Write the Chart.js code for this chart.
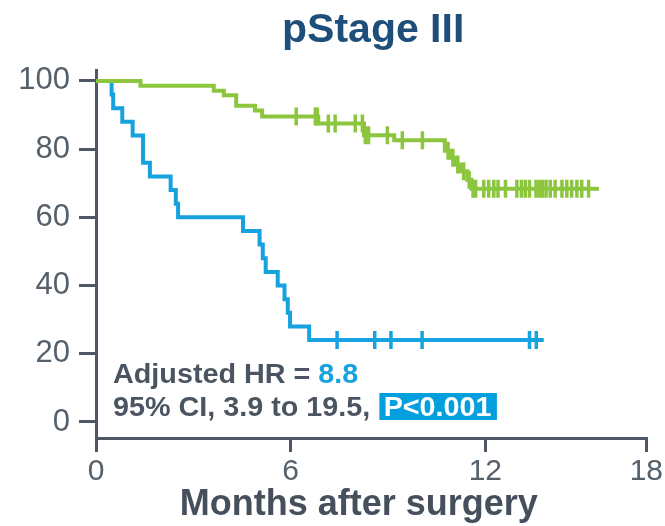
<!DOCTYPE html>
<html>
<head>
<meta charset="utf-8">
<script src="https://cdn.jsdelivr.net/npm/chart.js@4.4.1/dist/chart.umd.min.js"></script>
<style>
  html, body { margin: 0; padding: 0; background: #ffffff; }
  #wrap { width: 665px; height: 526px; }
</style>
</head>
<body>
<div id="wrap"><canvas id="km" width="665" height="526"></canvas></div>
<script>
// ---- labels ----
const chartTitle = 'pStage III';
const xAxisTitle = 'Months after surgery';
const xTickLabels = ['0', '6', '12', '18'];
const yTickValues = [0, 20, 40, 60, 80, 100];
const hrLabel = 'Adjusted HR = ';
const hrValue = '8.8';
const ciLabel = '95% CI, 3.9 to 19.5, ';
const pLabel = 'P<0.001';

// ---- Kaplan-Meier steps: time (months) and survival (%) from that time on ----
const greenTimes = [0, 1.37, 3.63, 3.94, 4.32, 4.90, 5.12, 6.85, 8.26, 9.19, 10.75, 10.93, 11.08, 11.23, 11.44, 11.57, 15.50];
const greenSurv  = [100, 98.6, 97.1, 95.8, 92.7, 91.3, 89.6, 87.5, 84.1, 82.6, 79.5, 77.5, 75.5, 73.5, 71.0, 68.4, 68.4];
const greenCensored = [6.17, 6.76, 6.82, 7.16, 7.37, 7.99, 8.21, 8.30, 8.40, 8.98, 9.44, 10.06,
  10.85, 11.00, 11.15, 11.33, 11.50,
  11.62, 11.70, 11.95, 12.10, 12.26, 12.39, 12.62, 12.97, 13.11, 13.23, 13.36, 13.56, 13.66,
  13.76, 13.87, 14.00, 14.15, 14.36, 14.51, 14.66, 14.82, 14.97, 15.18];

const blueTimes = [0, 0.48, 0.53, 0.81, 1.13, 1.45, 1.66, 2.30, 2.46, 2.53, 4.53, 5.04, 5.14, 5.23, 5.60, 5.81, 5.91, 5.98, 6.57, 13.80];
const blueSurv  = [100, 96, 92, 88, 84, 76, 72, 68, 64, 60, 56, 52, 48, 44, 40, 36, 32, 28, 24, 24];
const blueCensored = [7.43, 8.59, 9.09, 10.05, 13.36, 13.57];

// ---- axis extents ----
const xAxisEnd = 16.96;   // last drawn tick, labelled "18"
const yMin = -4.7, yMax = 103.2;

// ---- colours / fonts ----
const GREEN = '#8cc63f';
const BLUE = '#16a2de';
const AXIS = '#4e5865';
const TEXT = '#4b5561';
const NAVY = '#1e4f7b';
const FONT = '"Liberation Sans", Arial, Helvetica, sans-serif';

const curve = (ts, ss) => ts.map((t, i) => ({ x: t, y: ss[i] }));
const survAt = (ts, ss, t) => { let v = ss[0]; for (let i = 0; i < ts.length; i++) { if (ts[i] <= t) v = ss[i]; } return v; };
const marks = (cs, ts, ss) => cs.map(t => ({ x: t, y: survAt(ts, ss, t) }));

const lineStyle = color => ({
  borderColor: color, backgroundColor: color, borderWidth: 4,
  pointRadius: 0, stepped: true, fill: false, tension: 0
});
const markStyle = color => ({
  showLine: false, pointStyle: 'line', rotation: 90, pointRadius: 9,
  pointBorderWidth: 3.5, pointBorderColor: color, borderColor: color, backgroundColor: color
});

const annotations = {
  id: 'annotations',
  afterDraw(chart) {
    const { ctx, chartArea, scales } = chart;
    ctx.save();
    // title
    ctx.fillStyle = NAVY;
    ctx.font = 'bold 41px ' + FONT;
    ctx.textAlign = 'center';
    ctx.textBaseline = 'alphabetic';
    ctx.fillText(chartTitle, (chartArea.left + chartArea.right) / 2 + 2, 42);
    // x axis title
    ctx.fillStyle = '#46505c';
    ctx.font = 'bold 36px ' + FONT;
    ctx.fillText(xAxisTitle, scales.x.getPixelForValue(8.1), 515);
    // hazard ratio text (slightly widened face)
    const sx = 1.065;
    ctx.textAlign = 'left';
    ctx.font = 'bold 27px ' + FONT;
    const x0 = chartArea.left + 17;
    ctx.translate(x0, 0);
    ctx.scale(sx, 1);
    ctx.fillStyle = TEXT;
    ctx.fillText(hrLabel, 0, 383);
    const w1 = ctx.measureText(hrLabel).width;
    ctx.fillStyle = BLUE;
    ctx.fillText(hrValue, w1, 383);
    ctx.fillStyle = TEXT;
    ctx.fillText(ciLabel, 0, 416);
    const w2 = ctx.measureText(ciLabel).width;
    const pw = ctx.measureText(pLabel).width;
    const bx = w2 + 1;
    ctx.fillStyle = '#049fdd';
    ctx.fillRect(bx, 393, pw + 9, 27);
    ctx.fillStyle = '#ffffff';
    ctx.fillText(pLabel, bx + 4, 416);
    ctx.restore();
  }
};

new Chart(document.getElementById('km'), {
  type: 'line',
  data: {
    datasets: [
      Object.assign({ data: marks(greenCensored, greenTimes, greenSurv) }, markStyle(GREEN)),
      Object.assign({ data: curve(greenTimes, greenSurv) }, lineStyle(GREEN)),
      Object.assign({ data: marks(blueCensored, blueTimes, blueSurv) }, markStyle(BLUE)),
      Object.assign({ data: curve(blueTimes, blueSurv) }, lineStyle(BLUE))
    ]
  },
  options: {
    responsive: false,
    animation: false,
    events: [],
    layout: { padding: { top: 70, right: 17, left: 0, bottom: 0 } },
    plugins: { legend: { display: false }, tooltip: { enabled: false }, title: { display: false } },
    scales: {
      x: {
        type: 'linear', min: 0, max: xAxisEnd,
        afterBuildTicks: s => { s.ticks = [0, 6, 12, xAxisEnd].map(v => ({ value: v })); },
        afterFit: s => { s.height = 88; },
        ticks: {
          callback: (v, i) => xTickLabels[i],
          font: { family: FONT, size: 30 }, color: '#56606b',
          padding: 2, maxRotation: 0, autoSkip: false
        },
        grid: { drawOnChartArea: false, drawTicks: true, tickLength: 14, color: AXIS, lineWidth: 3 },
        border: { display: true, color: AXIS, width: 3 }
      },
      y: {
        min: yMin, max: yMax,
        afterBuildTicks: s => { s.ticks = yTickValues.map(v => ({ value: v })); },
        afterFit: s => { s.width = 96; },
        ticks: {
          font: { family: FONT, size: 31 }, color: '#56606b', padding: 9
        },
        grid: { drawOnChartArea: false, drawTicks: true, tickLength: 17, color: AXIS, lineWidth: 3 },
        border: { display: true, color: AXIS, width: 3 }
      }
    }
  },
  plugins: [annotations]
});
</script>
</body>
</html>
